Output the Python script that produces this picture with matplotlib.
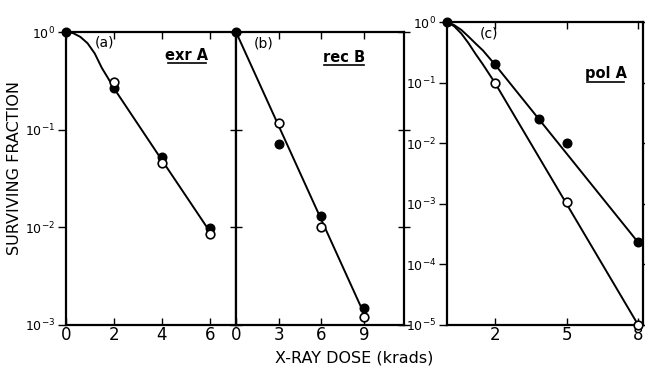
import matplotlib

matplotlib.use("Agg")
import matplotlib.pyplot as plt
from matplotlib.ticker import FixedLocator, NullFormatter, NullLocator


# (a) exrA
DOSE_A_FILLED: list[float] = [0, 2, 4, 6]
SURV_A_FILLED: list[float] = [1.0, 0.27, 0.052, 0.0098]
DOSE_A_OPEN: list[float] = [2, 4, 6]
SURV_A_OPEN: list[float] = [0.31, 0.046, 0.0086]
CURVE_A_DOSE: list[float] = [0, 0.3, 0.6, 0.9, 1.2, 1.5, 1.75, 2, 4, 6]
CURVE_A_SURV: list[float] = [1.0, 0.973, 0.891, 0.767, 0.603, 0.427, 0.339,
                             0.266, 0.049, 0.0091]

# (b) recB
DOSE_B_FILLED: list[float] = [0, 3, 6, 9]
SURV_B_FILLED: list[float] = [1.0, 0.071, 0.013, 0.0015]
DOSE_B_OPEN: list[float] = [3, 6, 9]
SURV_B_OPEN: list[float] = [0.117, 0.0101, 0.0012]
CURVE_B_DOSE: list[float] = [0, 9]
CURVE_B_SURV: list[float] = [1.0, 0.0013]

# (c) polA
DOSE_C_FILLED: list[float] = [0, 2, 3.85, 5, 8]
SURV_C_FILLED: list[float] = [1.0, 0.2, 0.025, 0.01, 2.3e-4]
DOSE_C_OPEN: list[float] = [2, 5, 8]
SURV_C_OPEN: list[float] = [0.1, 1.07e-3, 1.0e-5]
CURVE_C1_DOSE: list[float] = [0, 0.3, 0.6, 0.9, 1.2, 1.5, 2, 8]
CURVE_C1_SURV: list[float] = [1.0, 0.89, 0.74, 0.575, 0.44, 0.34, 0.2, 2.3e-4]
CURVE_C2_DOSE: list[float] = [0, 0.3, 0.6, 0.9, 1.2, 1.5, 2, 5, 8]
CURVE_C2_SURV: list[float] = [1.0, 0.85, 0.645, 0.447, 0.295, 0.2, 0.1,
                              1.0e-3, 1.0e-5]

W, H = 645, 366


def px_axes(fig, x0: float, y0: float, x1: float, y1: float):
    """Add axes given pixel corners (top-left origin)."""
    return fig.add_axes([x0 / W, 1 - y1 / H, (x1 - x0) / W, (y1 - y0) / H])


def style_axes(ax, xticks, xlim, ylim, yticks, left_dir="out",
               ylabels=True) -> None:
    ax.set_yscale("log")
    ax.set_xlim(*xlim)
    ax.set_ylim(*ylim)
    for s in ax.spines.values():
        s.set_linewidth(1.6)
    ax.xaxis.set_major_locator(FixedLocator(xticks))
    ax.xaxis.set_minor_locator(NullLocator())
    ax.yaxis.set_major_locator(FixedLocator(yticks))
    ax.yaxis.set_minor_locator(NullLocator())
    ax.tick_params(axis="x", which="major", direction="in", top=True,
                   length=5, width=1.0, labelsize=12, pad=1)
    ax.tick_params(axis="y", which="major", direction=left_dir, length=6,
                   width=1.0, labelsize=9, pad=2, right=True)
    if not ylabels:
        ax.yaxis.set_major_formatter(NullFormatter())


def draw_points(ax, dose_f, surv_f, dose_o, surv_o) -> None:
    ax.plot(dose_f, surv_f, "o", color="black", ms=6.2, clip_on=False, zorder=4)
    ax.plot(dose_o, surv_o, "o", mfc="white", mec="black", mew=1.2, ms=6.2,
            clip_on=False, zorder=5)


def underlined(ax, x: float, y: float, text: str, width: float) -> None:
    ax.text(x, y, text, transform=ax.transAxes, fontsize=10.5, ha="center",
            va="baseline", fontweight="bold")
    ax.plot([x - width / 2, x + width / 2], [y - 0.012, y - 0.012],
            transform=ax.transAxes, color="black", lw=1.2, clip_on=False)


def main() -> None:
    plt.rcParams["font.family"] = ["DejaVu Sans"]
    fig = plt.figure(figsize=(W / 100, H / 100), dpi=100)

    ax_a = px_axes(fig, 66, 32, 236, 325)
    ax_b = px_axes(fig, 236, 32, 404, 325)
    ax_c = px_axes(fig, 447, 22, 643, 325)

    dec3 = [1, 0.1, 0.01, 0.001]
    style_axes(ax_a, [0, 2, 4, 6], (0, 7.1), (1e-3, 1), dec3)
    ax_a.tick_params(axis="y", right=False)

    style_axes(ax_b, [0, 3, 6, 9], (0, 11.8), (1e-3, 1), dec3,
               left_dir="inout", ylabels=False)
    ax_b.tick_params(axis="y", length=8)

    style_axes(ax_c, [2, 5, 8], (0, 8.2), (1e-5, 1),
               [1, 0.1, 0.01, 1e-3, 1e-4, 1e-5])

    ax_a.plot(CURVE_A_DOSE, CURVE_A_SURV, color="black", lw=1.4)
    draw_points(ax_a, DOSE_A_FILLED, SURV_A_FILLED, DOSE_A_OPEN, SURV_A_OPEN)

    ax_b.plot(CURVE_B_DOSE, CURVE_B_SURV, color="black", lw=1.4)
    draw_points(ax_b, DOSE_B_FILLED, SURV_B_FILLED, DOSE_B_OPEN, SURV_B_OPEN)

    ax_c.plot(CURVE_C1_DOSE, CURVE_C1_SURV, color="black", lw=1.4)
    ax_c.plot(CURVE_C2_DOSE, CURVE_C2_SURV, color="black", lw=1.4)
    draw_points(ax_c, DOSE_C_FILLED, SURV_C_FILLED, DOSE_C_OPEN, SURV_C_OPEN)

    ax_a.text(0.224, 0.964, "(a)", transform=ax_a.transAxes, fontsize=10,
              ha="center", va="center")
    ax_b.text(0.167, 0.961, "(b)", transform=ax_b.transAxes, fontsize=10,
              ha="center", va="center")
    ax_c.text(0.214, 0.962, "(c)", transform=ax_c.transAxes, fontsize=10,
              ha="center", va="center")

    underlined(ax_a, 0.712, 0.905, "exr A", 0.22)
    underlined(ax_b, 0.643, 0.898, "rec B", 0.24)
    underlined(ax_c, 0.809, 0.815, "pol A", 0.19)

    fig.text(15 / W, 1 - 168 / H, "SURVIVING FRACTION", rotation=90,
             ha="center", va="center", fontsize=11.5)
    fig.text(354 / W, 1 - 358 / H, "X-RAY DOSE (krads)", ha="center",
             va="center", fontsize=11.5)

    fig.savefig("out.png", dpi=100)


if __name__ == "__main__":
    main()
